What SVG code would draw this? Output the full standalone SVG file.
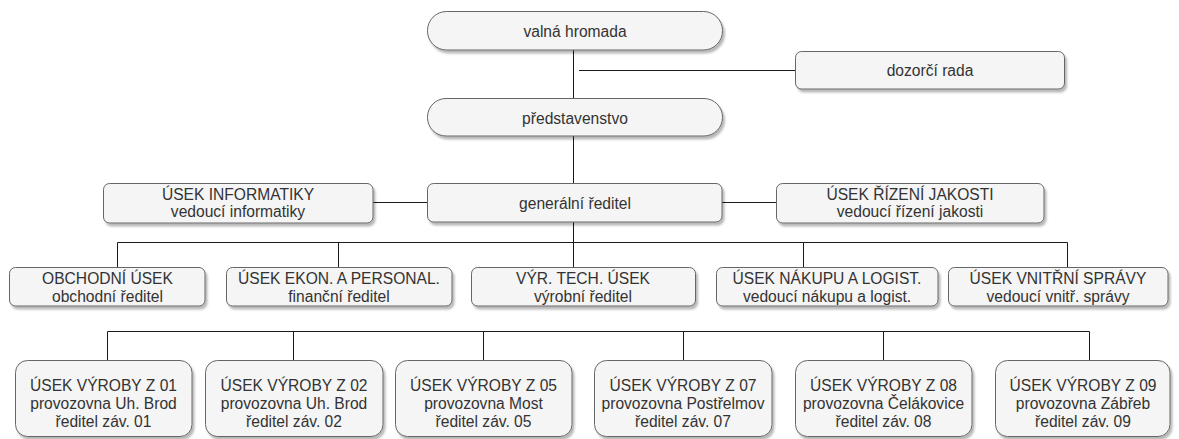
<svg xmlns="http://www.w3.org/2000/svg" width="1179" height="439" viewBox="0 0 1179 439">
<style>
.box{fill:#f5f5f5;stroke:#666666;stroke-width:1;filter:url(#sh)}
.t{font-family:"Liberation Sans",Arial,sans-serif;font-size:15.6px;fill:#333333;text-anchor:middle}
.ln{stroke:#1a1a1a;stroke-width:1;fill:none}
</style>
<defs>
<filter id="sh" x="-10%" y="-20%" width="120%" height="150%">
<feDropShadow dx="2" dy="3" stdDeviation="1.2" flood-color="#000" flood-opacity="0.28"/>
</filter>
</defs>
<g id="connectors">
<path class="ln" d="M573.5 50 V98 M579 70.5 H795 M573.5 136 V183 M373 202.5 H427 M722 202.5 H776 M573.5 222 V267 M117.5 242.5 H1067.5 M117.5 242.5 V267 M338.5 242.5 V267 M803.5 242.5 V267 M1067.5 242.5 V267 M107.5 331.5 H1089.5 M107.5 331.5 V360 M293.5 331.5 V360 M483.5 331.5 V360 M683.5 331.5 V360 M883.5 331.5 V360 M1089.5 331.5 V360"/>
</g>
<g id="n-valna"><rect class="box" x="427.5" y="11.5" width="295" height="38.5" rx="19"/><text class="t" x="575" y="36.5">valná hromada</text></g>
<g id="n-dozorci"><rect class="box" x="795.5" y="51.5" width="269" height="37.5" rx="6"/><text class="t" x="930" y="75.5">dozorčí rada</text></g>
<g id="n-predstavenstvo"><rect class="box" x="427.5" y="98.5" width="295" height="37.5" rx="18.5"/><text class="t" x="575" y="124">představenstvo</text></g>
<g id="n-generalni"><rect class="box" x="427.5" y="183.5" width="294.5" height="38.5" rx="6"/><text class="t" x="575" y="208.5">generální ředitel</text></g>
<g id="n-informatika"><rect class="box" x="103.5" y="183.5" width="269.5" height="39.5" rx="6"/><text class="t" x="238" y="199.5">ÚSEK INFORMATIKY</text><text class="t" x="238" y="217">vedoucí informatiky</text></g>
<g id="n-jakost"><rect class="box" x="776.5" y="183.5" width="267.5" height="39.5" rx="6"/><text class="t" x="910" y="199.5">ÚSEK ŘÍZENÍ JAKOSTI</text><text class="t" x="910" y="217">vedoucí řízení jakosti</text></g>
<g id="n-obchod"><rect class="box" x="9.5" y="267.5" width="195.5" height="38.5" rx="6"/><text class="t" x="107.5" y="283.5">OBCHODNÍ ÚSEK</text><text class="t" x="107.5" y="301.5">obchodní ředitel</text></g>
<g id="n-ekon"><rect class="box" x="226.5" y="267.5" width="225.5" height="38.5" rx="6"/><text class="t" x="339" y="283.5">ÚSEK EKON. A PERSONAL.</text><text class="t" x="339" y="301.5">finanční ředitel</text></g>
<g id="n-vyr"><rect class="box" x="471.5" y="267.5" width="224" height="38.5" rx="6"/><text class="t" x="583" y="283.5">VÝR. TECH. ÚSEK</text><text class="t" x="583" y="301.5">výrobní ředitel</text></g>
<g id="n-nakup"><rect class="box" x="716.5" y="267.5" width="221.5" height="38.5" rx="6"/><text class="t" x="827" y="283.5">ÚSEK NÁKUPU A LOGIST.</text><text class="t" x="827" y="301.5">vedoucí nákupu a logist.</text></g>
<g id="n-vnitrni"><rect class="box" x="948.5" y="267.5" width="219.5" height="38.5" rx="6"/><text class="t" x="1058" y="283.5">ÚSEK VNITŘNÍ SPRÁVY</text><text class="t" x="1058" y="301.5">vedoucí vnitř. správy</text></g>
<g id="n-z01"><rect class="box" x="15.5" y="360.5" width="176.5" height="76" rx="12"/><text class="t" x="103.5" y="390.5">ÚSEK VÝROBY Z 01</text><text class="t" x="103.5" y="408.5">provozovna Uh. Brod</text><text class="t" x="103.5" y="426.5">ředitel záv. 01</text></g>
<g id="n-z02"><rect class="box" x="205.5" y="360.5" width="177.5" height="76" rx="12"/><text class="t" x="294" y="390.5">ÚSEK VÝROBY Z 02</text><text class="t" x="294" y="408.5">provozovna Uh. Brod</text><text class="t" x="294" y="426.5">ředitel záv. 02</text></g>
<g id="n-z05"><rect class="box" x="395.5" y="360.5" width="176.5" height="76" rx="12"/><text class="t" x="483.5" y="390.5">ÚSEK VÝROBY Z 05</text><text class="t" x="483.5" y="408.5">provozovna Most</text><text class="t" x="483.5" y="426.5">ředitel záv. 05</text></g>
<g id="n-z07"><rect class="box" x="594.5" y="360.5" width="177.5" height="76" rx="12"/><text class="t" x="683" y="390.5">ÚSEK VÝROBY Z 07</text><text class="t" x="683" y="408.5">provozovna Postřelmov</text><text class="t" x="683" y="426.5">ředitel záv. 07</text></g>
<g id="n-z08"><rect class="box" x="795.5" y="360.5" width="176.5" height="76" rx="12"/><text class="t" x="883.5" y="390.5">ÚSEK VÝROBY Z 08</text><text class="t" x="883.5" y="408.5">provozovna Čelákovice</text><text class="t" x="883.5" y="426.5">ředitel záv. 08</text></g>
<g id="n-z09"><rect class="box" x="995.5" y="360.5" width="174.5" height="76" rx="12"/><text class="t" x="1083" y="390.5">ÚSEK VÝROBY Z 09</text><text class="t" x="1083" y="408.5">provozovna Zábřeb</text><text class="t" x="1083" y="426.5">ředitel záv. 09</text></g>
</svg>
